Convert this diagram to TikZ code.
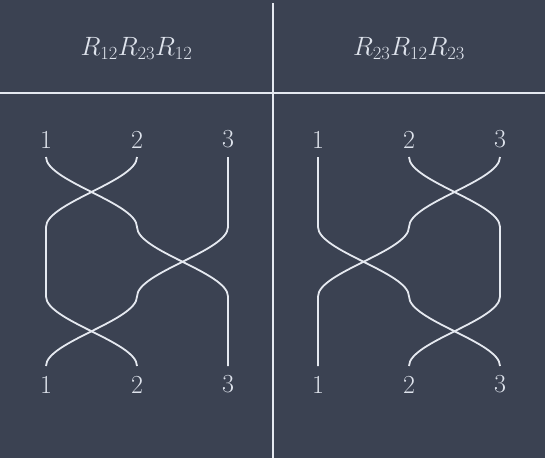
\RequirePackage{fix-cm}
\documentclass[tikz,border=0pt]{standalone}
\usepackage{tikz}
\usetikzlibrary{positioning,calc}
\usepackage{xcolor}
\definecolor{SlateBg}{RGB}{59,66,82}
\definecolor{SnowLine}{RGB}{229,233,240}
\definecolor{SnowText}{RGB}{222,227,236}

\begin{document}
\begin{tikzpicture}[x=1pt, y=-1pt,
    rule/.style={draw=SnowLine, line width=1.8pt},
    strand/.style={draw=SnowLine, line width=1.8pt},
    head/.style={text=SnowText, font=\fontsize{26.5}{32}\selectfont},
    num/.style={text=SnowText, inner sep=0pt, font=\fontsize{26}{30}\selectfont}
]
    \fill[SlateBg] (0,0) rectangle (545,458);
    \useasboundingbox (0,0) rectangle (545,458);

    % table rules
    \draw[rule] (0,93) -- (545,93);
    \draw[rule] (273,3) -- (273,458);

    \node[head] (headL) at (136.5,48) {$R_{12}R_{23}R_{12}$};
    \node[head] (headR) at (409,48)   {$R_{23}R_{12}R_{23}$};

    % strand grid: columns a,b,c, levels 0..3
    \foreach \col/\x in {La/46, Lb/137, Lc/228, Ra/318, Rb/409, Rc/500} {
        \foreach \lev/\y in {0/157, 1/227, 2/296.5, 3/366} {
            \coordinate (\col\lev) at (\x,\y);
        }
    }

    % strand labels
    \foreach \col/\x/\n in {La/46/1, Lb/137/2, Lc/228/3, Ra/318/1, Rb/409/2, Rc/500/3} {
        \node[num] (\col-top) at (\x,139.5) {\n};
        \node[num] (\col-bot) at (\x,384.5) {\n};
    }

    % left braid
    \draw[strand] (La0) .. controls +(0,24) and +(0,-24) .. (Lb1)
                        .. controls +(0,24) and +(0,-24) .. (Lc2) -- (Lc3);
    \draw[strand] (Lb0) .. controls +(0,24) and +(0,-24) .. (La1) -- (La2)
                        .. controls +(0,24) and +(0,-24) .. (Lb3);
    \draw[strand] (Lc0) -- (Lc1)
                        .. controls +(0,24) and +(0,-24) .. (Lb2)
                        .. controls +(0,24) and +(0,-24) .. (La3);

    % right braid
    \draw[strand] (Ra0) -- (Ra1)
                        .. controls +(0,24) and +(0,-24) .. (Rb2)
                        .. controls +(0,24) and +(0,-24) .. (Rc3);
    \draw[strand] (Rb0) .. controls +(0,24) and +(0,-24) .. (Rc1) -- (Rc2)
                        .. controls +(0,24) and +(0,-24) .. (Rb3);
    \draw[strand] (Rc0) .. controls +(0,24) and +(0,-24) .. (Rb1)
                        .. controls +(0,24) and +(0,-24) .. (Ra2) -- (Ra3);
\end{tikzpicture}
\end{document}
